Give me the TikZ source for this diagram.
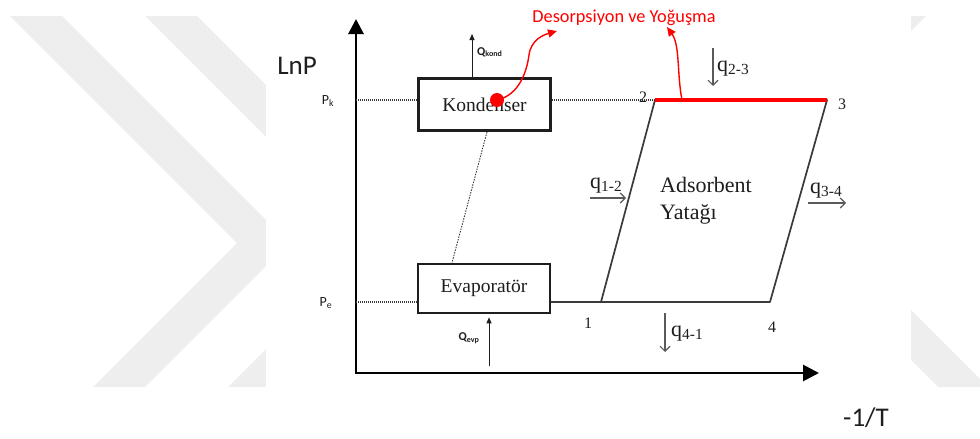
\documentclass[tikz,border=0pt]{standalone}
\usepackage{fontspec}
\setmainfont{Liberation Serif}
\setsansfont{Carlito}
\usepackage{tikz}
\usetikzlibrary{arrows.meta,calc}
\definecolor{wmgrey}{HTML}{EEEEEE}
\definecolor{inkdark}{HTML}{1E1E1E}
\definecolor{lineGrey}{HTML}{3A3A3A}
\definecolor{qGrey}{HTML}{5A5A5A}
\definecolor{redD}{HTML}{FF0000}

\begin{document}
\begin{tikzpicture}[x=1pt, y=-1pt,
    box/.style={draw=inkdark, line width=2.6pt, minimum width=132pt, minimum height=49pt, inner sep=0pt, font=\fontsize{19.5}{22}\selectfont, text=inkdark},
    axlabel/.style={font=\sffamily\fontsize{27}{30}\selectfont, text=inkdark, inner sep=0pt},
    plabel/.style={font=\sffamily\fontsize{14}{16}\selectfont, text=inkdark, inner sep=0pt},
    qlabel/.style={font=\sffamily\bfseries\fontsize{12}{14}\selectfont, text=inkdark, inner sep=0pt},
    num/.style={font=\fontsize{16}{18}\selectfont, text=inkdark, inner sep=0pt},
    qtext/.style={font=\fontsize{22}{24}\selectfont, text=inkdark, inner sep=0pt},
    dotline/.style={draw=lineGrey, line width=1.8pt, dash pattern=on 1.2pt off 0.8pt},
    linkline/.style={draw=lineGrey, line width=0.9pt, dash pattern=on 1.5pt off 1.2pt},
    qarrow/.style={draw=inkdark, line width=0.9pt, -{Triangle[length=6pt,width=5pt]}},
    harrow/.style={draw=qGrey, line width=1.1pt, -{Straight Barb[length=5pt,width=10pt]}},
    redarrow/.style={draw=redD, line width=1.4pt, -{Triangle[length=9pt,width=8pt]}}
]
\useasboundingbox (0,0) rectangle (980,439);
% watermark behind the figure
\begin{scope}
  \clip (0,16) rectangle (980,387);
  \fill[wmgrey] (10,16) -- (62,16) -- (289,243) -- (145,387) -- (93,387) -- (237,243) -- cycle;
  \fill[wmgrey] (145,16) -- (197,16) -- (424,243) -- (280,387) -- (228,387) -- (372,243) -- cycle;
  \fill[wmgrey] (911,16) -- (926,16) -- (911,31) -- cycle;
  \fill[wmgrey] (911,310) -- (988,387) -- (938,387) -- (911,360) -- cycle;
\end{scope}
\fill[white] (266,0) rectangle (911,439);

% axes
\coordinate (origin) at (356,373);
\coordinate (ytip) at (356,19);
\coordinate (xtip) at (819,373);
\draw[line width=2.8pt, {Triangle[length=15pt,width=15pt]}-{Triangle[length=16pt,width=16pt]}] (ytip) -- (origin) -- (xtip);
\node[axlabel] (lnp) at (297,66) {LnP};
\node[axlabel] (invT) at (866,418) {-1/T};

% pressure levels
\coordinate (ak) at (356,100);
\coordinate (ae) at (356,302);
\node[plabel] (pk) at (328,101) {P\textsubscript{k}};
\node[plabel] (pe) at (326,303) {P\textsubscript{e}};

\node[box, minimum height=52.5pt] (kond) at (484.5,104.5) {Kondenser};
\node[box] (evap) at (484,288.5) {Evaporatör};

% cycle corners
\coordinate (c1) at (601,302);
\coordinate (c2) at (655,100);
\coordinate (c3) at (827,100);
\coordinate (c4) at (770,302);

\draw[dotline] (ak) -- (kond.west |- ak);
\draw[dotline] (kond.east |- ak) -- (c2);
\draw[dotline] (ae) -- (evap.west |- ae);
\draw[dotline] (evap.east |- ae) -- (c1);
\draw[linkline] ([xshift=2.5pt]kond.south) -- ([xshift=-32pt]evap.north);

% heat to/from the boxes
\coordinate (qktip) at (472,34);
\draw[qarrow] ([xshift=-12.5pt]kond.north) -- (qktip);
\node[qlabel, anchor=west] (qkond) at (477,52) {Q\textsubscript{kond}};
\coordinate (qebot) at (489,366);
\draw[qarrow] (qebot) -- ([xshift=5pt,yshift=-3pt]evap.south);
\node[qlabel] (qevp) at (469,338) {Q\textsubscript{evp}};

% adsorbent bed
\draw[draw=lineGrey, line width=1.7pt, line join=round] (c1) -- (c2) -- (c3) -- (c4) -- cycle;
\draw[redD, line width=4pt] (c2) -- (c3);
\node[font=\fontsize{22}{27}\selectfont, text=inkdark, align=left, anchor=north west, inner sep=0pt] (bedlbl) at (660,177) {Adsorbent\\Yatağı};

\node[num] (n1) at (588,323) {1};
\node[num] (n2) at (643,97) {2};
\node[num] (n3) at (842,104) {3};
\node[num] (n4) at (772,327) {4};

% heat flows of the bed
\coordinate (q12a) at (590,198);  \coordinate (q12b) at (626,198);
\coordinate (q23a) at (713,48);   \coordinate (q23b) at (713,86);
\coordinate (q34a) at (808,203);  \coordinate (q34b) at (846,203);
\coordinate (q41a) at (665,313);  \coordinate (q41b) at (665,352);
\draw[harrow] (q12a) -- (q12b);
\draw[harrow] (q23a) -- (q23b);
\draw[harrow] (q34a) -- (q34b);
\draw[harrow] (q41a) -- (q41b);
\node[qtext, anchor=base west] (q12) at (590,188) {q\textsubscript{1-2}};
\node[qtext, anchor=base west] (q23) at (717,71) {q\textsubscript{2-3}};
\node[qtext, anchor=base west] (q34) at (810,193) {q\textsubscript{3-4}};
\node[qtext, anchor=base west] (q41) at (671,336) {q\textsubscript{4-1}};

% red annotation
\node[circle, fill=redD, minimum size=14pt, inner sep=0pt] (dot) at (497,100) {};
\coordinate (tipA) at (557,31);
\coordinate (rB) at (682,100);
\coordinate (tipB) at (667,27);
\draw[redarrow] (dot.center) .. controls (520,95) and (527,70) .. (529,55) .. controls (531,40) and (543,35) .. (tipA);
\draw[redarrow] (rB) .. controls (677,75) and (680,45) .. (tipB);
\node[font=\sffamily\fontsize{18.3}{20}\selectfont, text=redD, anchor=base, inner sep=0pt] (desorp) at (624,22) {Desorpsiyon ve Yoğuşma};
\end{tikzpicture}
\end{document}
